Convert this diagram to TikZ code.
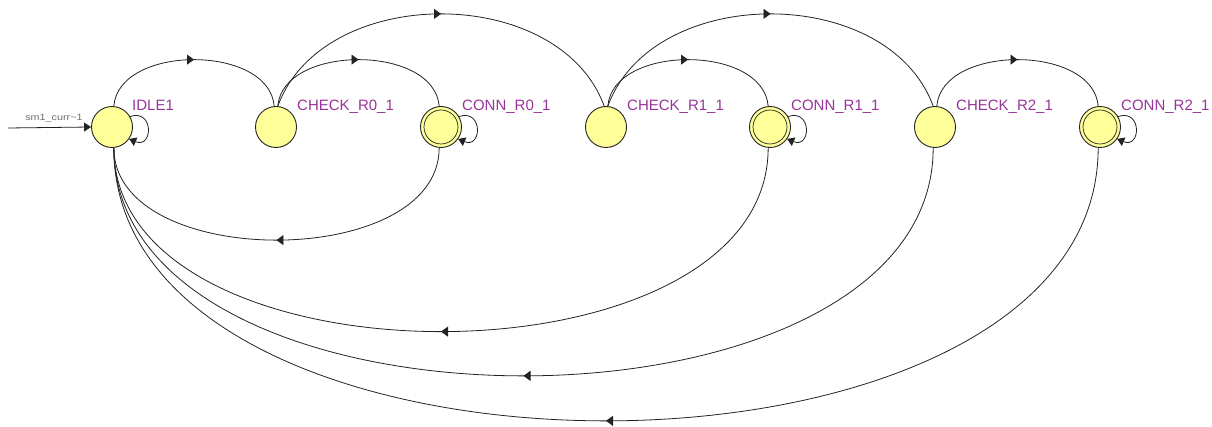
\documentclass[tikz,border=0pt]{standalone}
\usepackage{fontspec}
\setmainfont{Liberation Sans}
\usetikzlibrary{arrows.meta,decorations.markings}
\definecolor{stfill}{RGB}{255,255,153}
\definecolor{stlabel}{RGB}{153,51,153}
\definecolor{stline}{RGB}{35,35,35}
\definecolor{inlabel}{RGB}{110,110,110}
\tikzset{
  fsmstate/.style={circle, draw=stline, fill=stfill, line width=0.9pt, minimum size=41pt, inner sep=0pt},
  slabel/.style={anchor=base west, text=stlabel, inner sep=0pt, font=\fontsize{15}{15}\selectfont},
  tr/.style={draw=stline, line width=0.8pt, postaction={decorate},
    decoration={markings, mark=at position 0.5 with {\arrow{Triangle[length=7pt,width=10pt]}}}},
  selfloop/.style={draw=stline, line width=0.8pt, -{Triangle[length=7pt,width=9pt]}},
  innerring/.style={draw=stline, line width=0.7pt},
}
\begin{document}
\begin{tikzpicture}[x=1pt,y=-1pt]
\useasboundingbox (0,0) rectangle (1212,427);
% states
\node[fsmstate] (I)  at (112,127) {};
\node[fsmstate] (C0) at (276,127) {};
\node[fsmstate] (N0) at (441,127) {};
\node[fsmstate] (C1) at (606,127) {};
\node[fsmstate] (N1) at (770,127) {};
\node[fsmstate] (C2) at (935,127) {};
\node[fsmstate] (N2) at (1100,127) {};
\draw[innerring] (N0) circle (17);
\draw[innerring] (N1) circle (17);
\draw[innerring] (N2) circle (17);
% labels
\node[slabel] (lI)  at (132,111) {IDLE1};
\node[slabel] (lC0) at (297,111) {CHECK\_R0\_1};
\node[slabel] (lN0) at (462,111) {CONN\_R0\_1};
\node[slabel] (lC1) at (627,111) {CHECK\_R1\_1};
\node[slabel] (lN1) at (791,111) {CONN\_R1\_1};
\node[slabel] (lC2) at (956,111) {CHECK\_R2\_1};
\node[slabel] (lN2) at (1121,111) {CONN\_R2\_1};
% input
\coordinate (in) at (8,128);
\draw[selfloop] (in) -- (I.west);
\node[text=inlabel, font=\fontsize{9}{9}\selectfont, anchor=base] (inl) at (54,121) {\scalebox{1.2}[1]{sm1\_curr\textasciitilde1}};
% self loops
\draw[selfloop] (I.30) .. controls +(24,-8) and +(24,10) .. (I.-35);
\draw[selfloop] (N0.30) .. controls +(24,-8) and +(24,10) .. (N0.-35);
\draw[selfloop] (N1.30) .. controls +(24,-8) and +(24,10) .. (N1.-35);
\draw[selfloop] (N2.30) .. controls +(24,-8) and +(24,10) .. (N2.-35);
% forward small arcs
\draw[tr] (I.85)  .. controls +(5,-62) and +(-5,-62) .. (C0.95);
\draw[tr] (C0.85) .. controls +(5,-62) and +(-5,-62) .. (N0.95);
\draw[tr] (C1.85) .. controls +(5,-62) and +(-5,-62) .. (N1.95);
\draw[tr] (C2.85) .. controls +(5,-62) and +(-5,-62) .. (N2.95);
% forward big arcs
\draw[tr] (C0.85) .. controls +(45,-123) and +(-45,-123) .. (C1.95);
\draw[tr] (C1.85) .. controls +(45,-123) and +(-45,-123) .. (C2.95);
% return arcs
\draw[tr] (N0.-95) .. controls +(0,123) and +(0,123) .. (I.-85);
\draw[tr] (N1.-95) .. controls +(0,245) and +(0,245) .. (I.-85);
\draw[tr] (C2.-95) .. controls +(0,304) and +(0,304) .. (I.-85);
\draw[tr] (N2.-95) .. controls +(0,364) and +(0,364) .. (I.-85);
\end{tikzpicture}
\end{document}
